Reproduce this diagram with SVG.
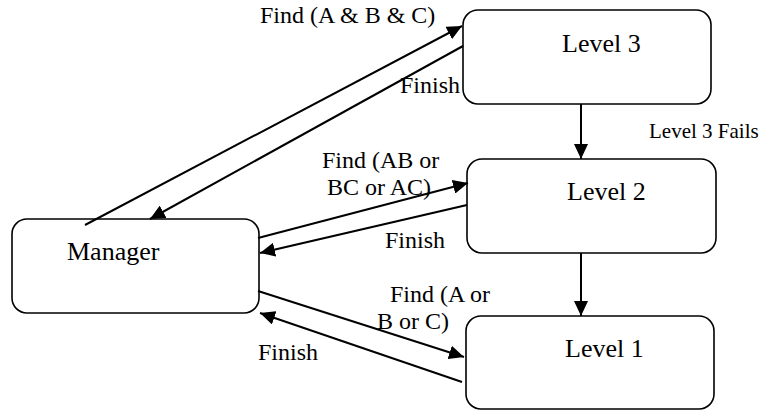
<svg xmlns="http://www.w3.org/2000/svg" width="761" height="412" viewBox="0 0 761 412">
<style>
.box{fill:#fff;stroke:#000;stroke-width:1.6}
.node{font-family:"Liberation Serif","Times New Roman",serif;font-size:26px;fill:#000}
.lbl{font-family:"Liberation Serif","Times New Roman",serif;font-size:24px;fill:#000}
.sm{font-family:"Liberation Serif","Times New Roman",serif;font-size:21px;fill:#000}
.c{fill:none;stroke:#000;stroke-width:2}
</style>
<defs>
<marker id="ah" markerUnits="userSpaceOnUse" markerWidth="16" markerHeight="14" refX="15" refY="7" orient="auto">
<path d="M0,0 L15,7 L0,14 Z" fill="#000"/>
</marker>
</defs>
<rect width="761" height="412" fill="#fff"/>
<g id="manager"><rect class="box" x="12" y="219" width="247" height="94" rx="15"/><text class="node" x="67" y="260">Manager</text></g>
<g id="level3"><rect class="box" x="463" y="10" width="248" height="94" rx="15"/><text class="node" x="562" y="52">Level 3</text></g>
<g id="level2"><rect class="box" x="467" y="159" width="249" height="94" rx="15"/><text class="node" x="567" y="200">Level 2</text></g>
<g id="level1"><rect class="box" x="466" y="316" width="248" height="93" rx="15"/><text class="node" x="565" y="357">Level 1</text></g>
<g id="connectors">
<line class="c" x1="85" y1="225" x2="462" y2="26" marker-end="url(#ah)"/>
<line class="c" x1="463" y1="46" x2="150" y2="219" marker-end="url(#ah)"/>
<line class="c" x1="258" y1="238" x2="468" y2="183" marker-end="url(#ah)"/>
<line class="c" x1="467" y1="205" x2="260" y2="253" marker-end="url(#ah)"/>
<line class="c" x1="258" y1="291" x2="464" y2="357" marker-end="url(#ah)"/>
<line class="c" x1="462" y1="382" x2="260" y2="313" marker-end="url(#ah)"/>
<line class="c" x1="581" y1="104" x2="581" y2="159" marker-end="url(#ah)"/>
<line class="c" x1="581" y1="253" x2="581" y2="316" marker-end="url(#ah)"/>
</g>
<g id="labels">
<text class="lbl" x="260" y="23">Find (A &amp; B &amp; C)</text>
<text class="lbl" x="400" y="93">Finish</text>
<text class="sm" x="649" y="138">Level 3 Fails</text>
<text class="lbl" x="322" y="168">Find (AB or</text>
<text class="lbl" x="327" y="195">BC or AC)</text>
<text class="lbl" x="385" y="248">Finish</text>
<text class="lbl" x="390" y="302">Find (A or</text>
<text class="lbl" x="377" y="329">B or C)</text>
<text class="lbl" x="258" y="360">Finish</text>
</g>
</svg>
